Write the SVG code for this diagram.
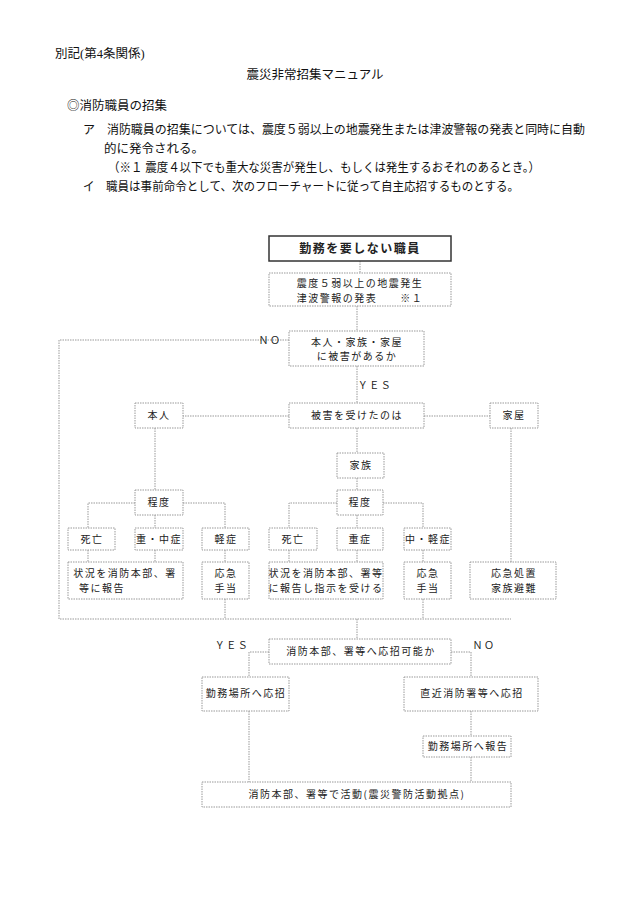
<svg xmlns="http://www.w3.org/2000/svg" width="630" height="903" viewBox="0 0 630 903">
<style>
.t{font-family:"Liberation Serif","Noto Sans CJK JP",serif;font-size:12.5px;fill:#111}
.f{font-family:"Noto Sans CJK JP",sans-serif;font-size:10px;fill:#222;text-anchor:middle;letter-spacing:1.5px}
.b{fill:#fff;stroke:#999;stroke-width:1;stroke-dasharray:1.5 1}
.c{fill:none;stroke:#999;stroke-width:1;stroke-dasharray:1.5 1}
</style>
<rect width="630" height="903" fill="#fff"/>
<text class="t" x="55" y="58">別記(第4条関係)</text>
<text class="t" x="315" y="79" text-anchor="middle">震災非常招集マニュアル</text>
<text class="t" x="67" y="110">◎消防職員の招集</text>
<text class="t" x="83" y="134" textLength="502" lengthAdjust="spacingAndGlyphs">ア　消防職員の招集については、震度５弱以上の地震発生または津波警報の発表と同時に自動</text>
<text class="t" x="104" y="153">的に発令される。</text>
<text class="t" x="108" y="172" textLength="432" lengthAdjust="spacingAndGlyphs">（※１ 震度４以下でも重大な災害が発生し、もしくは発生するおそれのあるとき。）</text>
<text class="t" x="83" y="191" textLength="436" lengthAdjust="spacingAndGlyphs">イ　職員は事前命令として、次のフローチャートに従って自主応招するものとする。</text>
<g id="connectors">
<path class="c" d="M360 261V273M357 306V331M289 340H59V619H511M357 366V403M289 416H183M424 416H490M155 428V490M357 428V453M357 478V490M511 428V562M135 503H88V528M183 503H225V528M155 515V528M337 503H289V528M383 503H423V528M357 515V528M88 550V562M155 550V562M225 550V562M289 550V562M357 550V562M423 550V562M225 599V619M423 599V619M357 619V639M269 652H249V677M451 652H471V677M249 711V782M471 711V736M471 757V782"/>
</g>
<g id="n0"><rect x="269" y="236" width="182" height="25" fill="#fff" stroke="#333" stroke-width="1.5"/><text class="f" x="360" y="253" style="font-weight:bold;font-size:12px">勤務を要しない職員</text></g>
<g id="n1"><rect class="b" x="269" y="273" width="182" height="33"/><text class="f" x="360" y="287">震度５弱以上の地震発生</text><text class="f" x="360" y="302">津波警報の発表　　※１</text></g>
<g id="n2"><rect class="b" x="289" y="331" width="135" height="35"/><text class="f" x="357" y="346">本人・家族・家屋</text><text class="f" x="357" y="360">に被害があるか</text></g>
<text class="f" x="270" y="344">ＮＯ</text>
<text class="f" x="375" y="389">ＹＥＳ</text>
<g id="n3"><rect class="b" x="289" y="403" width="135" height="25"/><text class="f" x="357" y="419">被害を受けたのは</text></g>
<g id="n4"><rect class="b" x="135" y="403" width="48" height="25"/><text class="f" x="159" y="419">本人</text></g>
<g id="n5"><rect class="b" x="490" y="403" width="48" height="25"/><text class="f" x="514" y="419">家屋</text></g>
<g id="n6"><rect class="b" x="337" y="453" width="47" height="25"/><text class="f" x="361" y="469">家族</text></g>
<g id="n7"><rect class="b" x="135" y="490" width="48" height="25"/><text class="f" x="159" y="506">程度</text></g>
<g id="n8"><rect class="b" x="337" y="490" width="46" height="25"/><text class="f" x="360" y="506">程度</text></g>
<g id="n9"><rect class="b" x="68" y="528" width="47" height="22"/><text class="f" x="92" y="543">死亡</text></g>
<g id="n10"><rect class="b" x="135" y="528" width="48" height="22"/><text class="f" x="159" y="543">重・中症</text></g>
<g id="n11"><rect class="b" x="202" y="528" width="47" height="22"/><text class="f" x="226" y="543">軽症</text></g>
<g id="n12"><rect class="b" x="269" y="528" width="48" height="22"/><text class="f" x="293" y="543">死亡</text></g>
<g id="n13"><rect class="b" x="337" y="528" width="46" height="22"/><text class="f" x="360" y="543">重症</text></g>
<g id="n14"><rect class="b" x="404" y="528" width="47" height="22"/><text class="f" x="428" y="543">中・軽症</text></g>
<g id="n15"><rect class="b" x="68" y="562" width="115" height="37"/><text class="f" x="125" y="577">状況を消防本部、署</text><text class="f" x="102" y="592">等に報告</text></g>
<g id="n16"><rect class="b" x="202" y="562" width="47" height="37"/><text class="f" x="226" y="577">応急</text><text class="f" x="226" y="592">手当</text></g>
<g id="n17"><rect class="b" x="269" y="562" width="114" height="37"/><text class="f" x="326" y="577">状況を消防本部、署等</text><text class="f" x="326" y="592">に報告し指示を受ける</text></g>
<g id="n18"><rect class="b" x="404" y="562" width="47" height="37"/><text class="f" x="428" y="577">応急</text><text class="f" x="428" y="592">手当</text></g>
<g id="n19"><rect class="b" x="470" y="562" width="86" height="37"/><text class="f" x="514" y="577">応急処置</text><text class="f" x="514" y="592">家族避難</text></g>
<g id="n20"><rect class="b" x="269" y="639" width="182" height="25"/><text class="f" x="361" y="655">消防本部、署等へ応招可能か</text></g>
<text class="f" x="232" y="649">ＹＥＳ</text>
<text class="f" x="484" y="649">ＮＯ</text>
<g id="n21"><rect class="b" x="202" y="677" width="87" height="34"/><text class="f" x="246" y="697">勤務場所へ応招</text></g>
<g id="n22"><rect class="b" x="404" y="677" width="134" height="34"/><text class="f" x="472" y="697">直近消防署等へ応招</text></g>
<g id="n23"><rect class="b" x="423" y="736" width="88" height="21"/><text class="f" x="468" y="750">勤務場所へ報告</text></g>
<g id="n24"><rect class="b" x="202" y="782" width="309" height="25"/><text class="f" x="357" y="798">消防本部、署等で活動(震災警防活動拠点)</text></g>
</svg>
